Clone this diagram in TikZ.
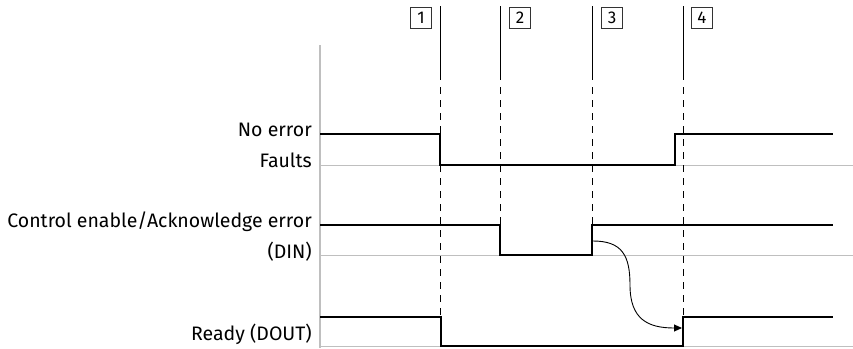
\documentclass[tikz,border=0pt]{standalone}
\usepackage{fontspec}
\setmainfont{Fira Sans}
\usetikzlibrary{arrows.meta}
\begin{document}
\begin{tikzpicture}[x=1pt,y=-1pt,
  sig/.style={line width=2.4pt,line join=miter},
  base/.style={draw=black!25,line width=1pt},
  axis/.style={draw=black!25,line width=2pt},
  marksolid/.style={line width=0.9pt},
  markdash/.style={line width=0.9pt,dash pattern=on 7pt off 6pt},
  lbl/.style={anchor=east,inner sep=0pt,font=\fontsize{19.5}{22}\selectfont},
  numbox/.style={draw=black!80,line width=0.8pt,minimum width=21pt,minimum height=21pt,inner sep=0pt,font=\fontsize{17}{19}\selectfont}]
\useasboundingbox (0,0) rectangle (853,348);
% axis and baselines
\draw[axis] (320,45) -- (320,348);
\draw[base] (320,165) -- (853,165);
\draw[base] (320,255) -- (853,255);
\draw[base] (320,346) -- (853,346);
% markers
\foreach \x/\e in {440/316,500/255,592/255,683/316}{
  \draw[marksolid] (\x,6) -- (\x,80);
  \draw[markdash] (\x,87) -- (\x,\e);
}
\node[numbox] (b1) at (421,18) {1};
\node[numbox] (b2) at (520,18) {2};
\node[numbox] (b3) at (612,18) {3};
\node[numbox] (b4) at (702,18) {4};
% labels
\node[lbl] (l1) at (312,130) {No error};
\node[lbl] (l2) at (312,160) {Faults};
\node[lbl] (l3) at (312,222) {Control enable/Acknowledge error};
\node[lbl] (l4) at (312,252) {(DIN)};
\node[lbl] (l5) at (312,334) {Ready (DOUT)};
% signals
\draw[sig] (320,134) -- (440,134) -- (440,165) -- (675,165) -- (675,134) -- (833,134);
\draw[sig] (320,225) -- (500,225) -- (500,255) -- (592,255) -- (592,225) -- (833,225);
\draw[sig] (320,317) -- (441,317) -- (441,346) -- (683,346) -- (683,317) -- (833,317);
% causal arrow
\coordinate (cs) at (593,241);
\coordinate (cm) at (630,285);
\coordinate (ce) at (682,328);
\draw[line width=0.9pt,-{Triangle[length=8pt,width=7pt]}] (cs) to[out=0,in=90,looseness=1.3] (cm) to[out=-90,in=180,looseness=1.3] (ce);
\end{tikzpicture}
\end{document}
